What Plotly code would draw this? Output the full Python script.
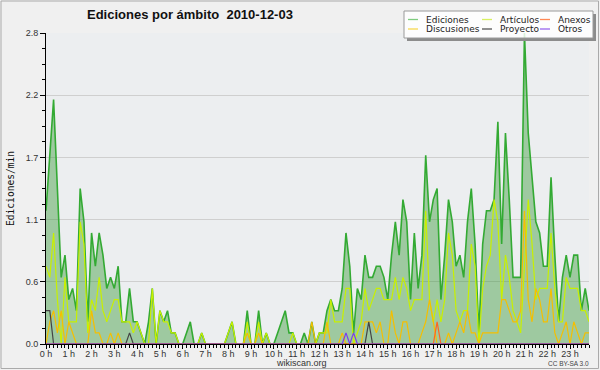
import plotly.graph_objects as go

# ---------------- data (10-minute slots, edits per minute) ----------------
slots = list(range(144))

hour_ticks = [0, 6, 12, 18, 24, 30, 36, 42, 48, 54, 60, 66,
              72, 78, 84, 90, 96, 102, 108, 114, 120, 126, 132, 138]
hour_labels = ["0 h", "1 h", "2 h", "3 h", "4 h", "5 h", "6 h", "7 h", "8 h", "9 h", "10 h", "11 h",
               "12 h", "13 h", "14 h", "15 h", "16 h", "17 h", "18 h", "19 h", "20 h", "21 h", "22 h", "23 h"]

y_ticks = [0, 0.56, 1.12, 1.68, 2.24, 2.8]
y_labels = ["0.0", "0.6", "1.1", "1.7", "2.2", "2.8"]

ediciones = [
    1.2, 1.7, 2.2, 1.4, 0.6, 0.8, 0.4, 0.5, 0.3, 1.4, 1.1, 0.2,
    1.0, 0.7, 1.0, 0.8, 0.5, 0.6, 0.5, 0.7, 0.2, 0.2, 0.5, 0.2,
    0.2, 0.1, 0.0, 0.2, 0.5, 0.0, 0.3, 0.2, 0.3, 0.1, 0.1, 0.0,
    0.0, 0.1, 0.2, 0.0, 0.0, 0.1, 0.0, 0.0, 0.0, 0.0, 0.0, 0.0,
    0.1, 0.2, 0.0, 0.0, 0.0, 0.3, 0.0, 0.0, 0.3, 0.0, 0.1, 0.0,
    0.0, 0.1, 0.2, 0.3, 0.1, 0.1, 0.0, 0.0, 0.1, 0.0, 0.2, 0.0,
    0.1, 0.1, 0.3, 0.4, 0.3, 0.3, 0.5, 1.0, 0.7, 0.1, 0.5, 0.4,
    0.8, 0.6, 0.6, 0.7, 0.7, 0.6, 0.4, 0.8, 1.1, 0.8, 1.3, 1.1,
    0.4, 1.0, 0.5, 0.8, 1.7, 1.1, 1.3, 1.4, 0.4, 0.8, 1.3, 1.1,
    0.7, 0.8, 0.6, 1.1, 1.4, 0.9, 0.1, 0.9, 1.2, 1.2, 1.3, 2.0,
    0.9, 1.9, 1.3, 0.6, 0.6, 0.6, 2.8, 1.9, 1.5, 1.1, 1.0, 0.7,
    0.7, 1.5, 0.8, 0.2, 0.6, 0.8, 0.6, 0.8, 0.8, 0.3, 0.5, 0.3,
]

articulos = [
    0.7, 0.6, 1.0, 0.4, 0.0, 0.6, 0.2, 0.2, 0.2, 1.1, 0.9, 0.1,
    0.4, 0.3, 0.6, 0.3, 0.2, 0.3, 0.4, 0.4, 0.2, 0.2, 0.2, 0.1,
    0.2, 0.1, 0.0, 0.0, 0.5, 0.0, 0.3, 0.2, 0.2, 0.1, 0.1, 0.0,
    0.0, 0.0, 0.0, 0.0, 0.0, 0.1, 0.0, 0.0, 0.0, 0.0, 0.0, 0.0,
    0.1, 0.2, 0.0, 0.0, 0.0, 0.2, 0.0, 0.0, 0.2, 0.0, 0.1, 0.0,
    0.0, 0.0, 0.0, 0.0, 0.0, 0.1, 0.0, 0.0, 0.0, 0.0, 0.0, 0.0,
    0.1, 0.1, 0.1, 0.4, 0.2, 0.2, 0.2, 0.5, 0.5, 0.0, 0.1, 0.2,
    0.5, 0.3, 0.4, 0.5, 0.5, 0.4, 0.4, 0.4, 0.6, 0.4, 0.6, 0.5,
    0.3, 0.4, 0.4, 0.4, 1.2, 0.4, 0.2, 0.4, 0.2, 0.4, 1.0, 0.8,
    0.3, 0.2, 0.3, 0.3, 0.9, 0.7, 0.0, 0.5, 0.7, 0.8, 1.3, 1.1,
    0.4, 0.8, 0.6, 0.3, 0.2, 0.1, 0.7, 1.3, 0.9, 0.4, 0.5, 0.5,
    0.5, 1.0, 0.5, 0.2, 0.2, 0.6, 0.5, 0.5, 0.5, 0.3, 0.3, 0.2,
]

discusiones = [
    0.0, 0.2, 0.3, 0.1, 0.3, 0.0, 0.2, 0.1, 0.0, 0.0, 0.0, 0.0,
    0.3, 0.1, 0.1, 0.0, 0.0, 0.1, 0.0, 0.1, 0.0, 0.0, 0.0, 0.0,
    0.0, 0.0, 0.0, 0.0, 0.0, 0.0, 0.0, 0.0, 0.0, 0.0, 0.0, 0.0,
    0.0, 0.0, 0.0, 0.0, 0.0, 0.0, 0.0, 0.0, 0.0, 0.0, 0.0, 0.0,
    0.0, 0.0, 0.0, 0.0, 0.0, 0.1, 0.0, 0.0, 0.1, 0.0, 0.0, 0.0,
    0.0, 0.0, 0.0, 0.0, 0.0, 0.0, 0.0, 0.0, 0.0, 0.0, 0.2, 0.0,
    0.0, 0.0, 0.2, 0.0, 0.0, 0.0, 0.1, 0.0, 0.0, 0.0, 0.0, 0.0,
    0.2, 0.2, 0.2, 0.1, 0.2, 0.0, 0.0, 0.3, 0.1, 0.0, 0.2, 0.2,
    0.0, 0.0, 0.0, 0.1, 0.2, 0.4, 0.2, 0.0, 0.0, 0.0, 0.1, 0.0,
    0.1, 0.2, 0.1, 0.3, 0.1, 0.1, 0.0, 0.1, 0.1, 0.1, 0.1, 0.1,
    0.4, 0.4, 0.3, 0.2, 0.2, 0.3, 1.2, 0.4, 0.2, 0.5, 0.4, 0.2,
    0.2, 0.5, 0.1, 0.0, 0.1, 0.2, 0.0, 0.2, 0.1, 0.0, 0.1, 0.1,
]

proyecto = [
    0.3, 0.3, 0.0, 0.0, 0.0, 0.0, 0.0, 0.0, 0.0, 0.0, 0.0, 0.0,
    0.0, 0.0, 0.0, 0.0, 0.0, 0.0, 0.0, 0.0, 0.0, 0.0, 0.1, 0.0,
    0.0, 0.0, 0.0, 0.0, 0.0, 0.0, 0.0, 0.0, 0.0, 0.0, 0.0, 0.0,
    0.0, 0.0, 0.0, 0.0, 0.0, 0.0, 0.0, 0.0, 0.0, 0.0, 0.0, 0.0,
    0.0, 0.0, 0.0, 0.0, 0.0, 0.0, 0.0, 0.0, 0.0, 0.0, 0.0, 0.0,
    0.0, 0.0, 0.0, 0.0, 0.0, 0.0, 0.0, 0.0, 0.0, 0.0, 0.0, 0.0,
    0.0, 0.0, 0.0, 0.0, 0.0, 0.0, 0.0, 0.0, 0.0, 0.0, 0.0, 0.0,
    0.0, 0.2, 0.0, 0.0, 0.0, 0.0, 0.0, 0.0, 0.0, 0.0, 0.0, 0.0,
    0.0, 0.0, 0.0, 0.0, 0.0, 0.0, 0.0, 0.0, 0.0, 0.0, 0.0, 0.0,
    0.0, 0.0, 0.0, 0.0, 0.0, 0.0, 0.0, 0.0, 0.0, 0.0, 0.0, 0.0,
    0.0, 0.0, 0.0, 0.0, 0.0, 0.0, 0.0, 0.0, 0.0, 0.0, 0.0, 0.0,
    0.0, 0.0, 0.0, 0.0, 0.0, 0.0, 0.0, 0.0, 0.0, 0.0, 0.0, 0.0,
]

anexos = [
    0.0, 0.0, 0.0, 0.0, 0.0, 0.0, 0.0, 0.0, 0.0, 0.0, 0.0, 0.0,
    0.0, 0.0, 0.0, 0.0, 0.0, 0.0, 0.0, 0.0, 0.0, 0.0, 0.0, 0.0,
    0.0, 0.0, 0.0, 0.0, 0.0, 0.0, 0.0, 0.0, 0.0, 0.0, 0.0, 0.0,
    0.0, 0.0, 0.0, 0.0, 0.0, 0.0, 0.0, 0.0, 0.0, 0.0, 0.0, 0.0,
    0.0, 0.0, 0.0, 0.0, 0.0, 0.0, 0.0, 0.0, 0.0, 0.0, 0.0, 0.0,
    0.0, 0.0, 0.0, 0.0, 0.0, 0.0, 0.0, 0.0, 0.0, 0.0, 0.0, 0.0,
    0.0, 0.0, 0.0, 0.0, 0.0, 0.0, 0.0, 0.0, 0.0, 0.0, 0.0, 0.0,
    0.0, 0.0, 0.0, 0.0, 0.0, 0.0, 0.0, 0.0, 0.0, 0.0, 0.0, 0.0,
    0.0, 0.0, 0.0, 0.0, 0.0, 0.0, 0.0, 0.2, 0.0, 0.0, 0.0, 0.0,
    0.0, 0.0, 0.0, 0.0, 0.0, 0.0, 0.0, 0.0, 0.0, 0.0, 0.0, 0.0,
    0.0, 0.0, 0.0, 0.0, 0.0, 0.0, 0.0, 0.0, 0.0, 0.0, 0.0, 0.0,
    0.0, 0.0, 0.0, 0.0, 0.0, 0.0, 0.0, 0.0, 0.0, 0.0, 0.0, 0.0,
]

otros = [
    0.0, 0.0, 0.0, 0.0, 0.0, 0.0, 0.0, 0.0, 0.0, 0.0, 0.0, 0.0,
    0.0, 0.0, 0.0, 0.0, 0.0, 0.0, 0.0, 0.0, 0.0, 0.0, 0.0, 0.0,
    0.0, 0.0, 0.0, 0.0, 0.0, 0.0, 0.0, 0.0, 0.0, 0.0, 0.0, 0.0,
    0.0, 0.0, 0.0, 0.0, 0.0, 0.0, 0.0, 0.0, 0.0, 0.0, 0.0, 0.0,
    0.0, 0.0, 0.0, 0.0, 0.0, 0.0, 0.0, 0.0, 0.0, 0.0, 0.0, 0.0,
    0.0, 0.0, 0.0, 0.0, 0.0, 0.0, 0.0, 0.0, 0.0, 0.0, 0.0, 0.0,
    0.0, 0.0, 0.0, 0.0, 0.0, 0.0, 0.0, 0.1, 0.0, 0.1, 0.0, 0.0,
    0.0, 0.0, 0.0, 0.0, 0.0, 0.0, 0.0, 0.0, 0.0, 0.0, 0.0, 0.0,
    0.0, 0.0, 0.0, 0.0, 0.0, 0.0, 0.0, 0.0, 0.0, 0.0, 0.0, 0.0,
    0.0, 0.0, 0.0, 0.0, 0.0, 0.0, 0.0, 0.0, 0.0, 0.0, 0.0, 0.0,
    0.0, 0.0, 0.0, 0.0, 0.0, 0.0, 0.0, 0.0, 0.0, 0.0, 0.0, 0.0,
    0.0, 0.0, 0.0, 0.0, 0.0, 0.0, 0.0, 0.0, 0.0, 0.0, 0.0, 0.0,
]

series_names = ["Ediciones", "Artículos", "Anexos", "Discusiones", "Proyecto", "Otros"]
series_colors = ["#33aa33", "#c8f000", "#ff6622", "#f5bf00", "#444444", "#7a3cf0"]
legend_colors = ["#7fcc7f", "#d8f060", "#ff8855", "#f8d850", "#555555", "#9966ee"]

# ---------------- layout geometry ----------------
W, H = 600, 370
ML, MR, MT, MB = 46, 11, 33, 26
PW, PH = W - ML - MR, H - MT - MB


def px(x):
    return (x - ML) / PW


def py(y):
    return (H - MB - y) / PH


fig = go.Figure()

fig.add_trace(go.Scatter(
    x=slots, y=ediciones, name="Ediciones", mode="lines",
    line=dict(color=series_colors[0], width=1.6),
    fill="tozeroy", fillcolor="rgba(50,150,50,0.42)", showlegend=False))

other_series = [
    ("Artículos", articulos, series_colors[1]),
    ("Discusiones", discusiones, series_colors[3]),
    ("Proyecto", proyecto, series_colors[4]),
    ("Anexos", anexos, series_colors[2]),
    ("Otros", otros, series_colors[5]),
]
for name, vals, col in other_series:
    fig.add_trace(go.Scatter(x=slots, y=vals, name=name, mode="lines",
                             line=dict(color=col, width=1.2), showlegend=False))

shapes = []
annotations = []

# outer frame
shapes.append(dict(type="rect", xref="paper", yref="paper",
                   x0=px(1), x1=px(598.5), y0=py(1), y1=py(368.5),
                   line=dict(color="#aaaaaa", width=1), fillcolor="rgba(0,0,0,0)", layer="below"))

# legend box with shadow
LX0, LX1, LY0, LY1 = 404, 593, 11, 38
shapes.append(dict(type="rect", xref="paper", yref="paper",
                   x0=px(LX1), x1=px(LX1 + 3), y0=py(LY0 + 3), y1=py(LY1 + 3),
                   line=dict(width=0), fillcolor="#8c8c8c", layer="above"))
shapes.append(dict(type="rect", xref="paper", yref="paper",
                   x0=px(LX0 + 3), x1=px(LX1 + 3), y0=py(LY1), y1=py(LY1 + 3),
                   line=dict(width=0), fillcolor="#8c8c8c", layer="above"))
shapes.append(dict(type="rect", xref="paper", yref="paper",
                   x0=px(LX0), x1=px(LX1), y0=py(LY0), y1=py(LY1),
                   line=dict(color="#9a9a9a", width=1), fillcolor="rgba(255,255,255,0.82)",
                   layer="above"))

col_x = [408, 482, 540]
row_y = [19.5, 29]
for k, (name, col) in enumerate(zip(series_names, legend_colors)):
    r, c = divmod(k, 3)
    x0 = col_x[c]
    yy = row_y[r]
    shapes.append(dict(type="line", xref="paper", yref="paper",
                       x0=px(x0), x1=px(x0 + 10), y0=py(yy), y1=py(yy),
                       line=dict(color=col, width=1.3), layer="above"))
    annotations.append(dict(text=name, xref="paper", yref="paper",
                            x=px(x0 + 16), y=py(yy), xanchor="left", yanchor="middle",
                            showarrow=False,
                            font=dict(family="DejaVu Sans", size=9, color="#222222")))

# title
annotations.append(dict(text="Ediciones por ámbito\u00a0\u00a02010-12-03", xref="paper", yref="paper",
                        x=px(85), y=py(14.5), xanchor="left", yanchor="middle", showarrow=False,
                        font=dict(family="Liberation Sans", size=13, color="#111111", weight=700)))
# y axis title
annotations.append(dict(text="Ediciones/min", xref="paper", yref="paper",
                        x=px(10), y=py(189), xanchor="center", yanchor="middle", showarrow=False,
                        textangle=-90,
                        font=dict(family="DejaVu Sans Mono", size=9.6, color="#111111")))
# footers
annotations.append(dict(text="wikiscan.org", xref="paper", yref="paper",
                        x=px(301), y=py(363), xanchor="center", yanchor="middle", showarrow=False,
                        borderpad=0,
                        font=dict(family="Liberation Sans", size=9, color="#333333")))
annotations.append(dict(text="CC BY-SA 3.0", xref="paper", yref="paper",
                        x=px(590), y=py(363.5), xanchor="right", yanchor="middle", showarrow=False,
                        borderpad=0,
                        font=dict(family="Liberation Sans", size=6.5, color="#444444")))

fig.update_layout(
    width=W, height=H,
    margin=dict(l=ML, r=MR, t=MT, b=MB, pad=0),
    paper_bgcolor="#f0f0f0",
    plot_bgcolor="#eceef0",
    showlegend=False,
    shapes=shapes,
    annotations=annotations,
    xaxis=dict(
        range=[0, 143], showgrid=False, zeroline=False,
        showline=True, linecolor="#000000", linewidth=1,
        tickmode="array", tickvals=hour_ticks, ticktext=hour_labels,
        ticks="outside", ticklen=4, tickcolor="#000000", tickwidth=1,
        ticklabelstandoff=-3,
        tickfont=dict(family="Liberation Sans", size=9, color="#333333"),
        minor=dict(tickmode="linear", tick0=0, dtick=1, ticks="outside", ticklen=3,
                   tickcolor="#000000", tickwidth=1, showgrid=False),
        fixedrange=True,
    ),
    yaxis=dict(
        range=[0, 2.8], showgrid=True, gridcolor="#cfcfcf", gridwidth=1, zeroline=False,
        showline=True, linecolor="#000000", linewidth=1,
        tickmode="array", tickvals=y_ticks, ticktext=y_labels,
        ticks="outside", ticklen=5, tickcolor="#000000", tickwidth=1,
        tickfont=dict(family="Liberation Sans", size=9, color="#333333"),
        minor=dict(tickmode="linear", tick0=0, dtick=0.14, ticks="outside", ticklen=3,
                   tickcolor="#000000", tickwidth=1, showgrid=False),
        fixedrange=True,
    ),
)

fig.write_html("out.html", config={"displayModeBar": False},
               post_script="document.body.style.margin='0px';document.body.style.overflow='hidden';")
